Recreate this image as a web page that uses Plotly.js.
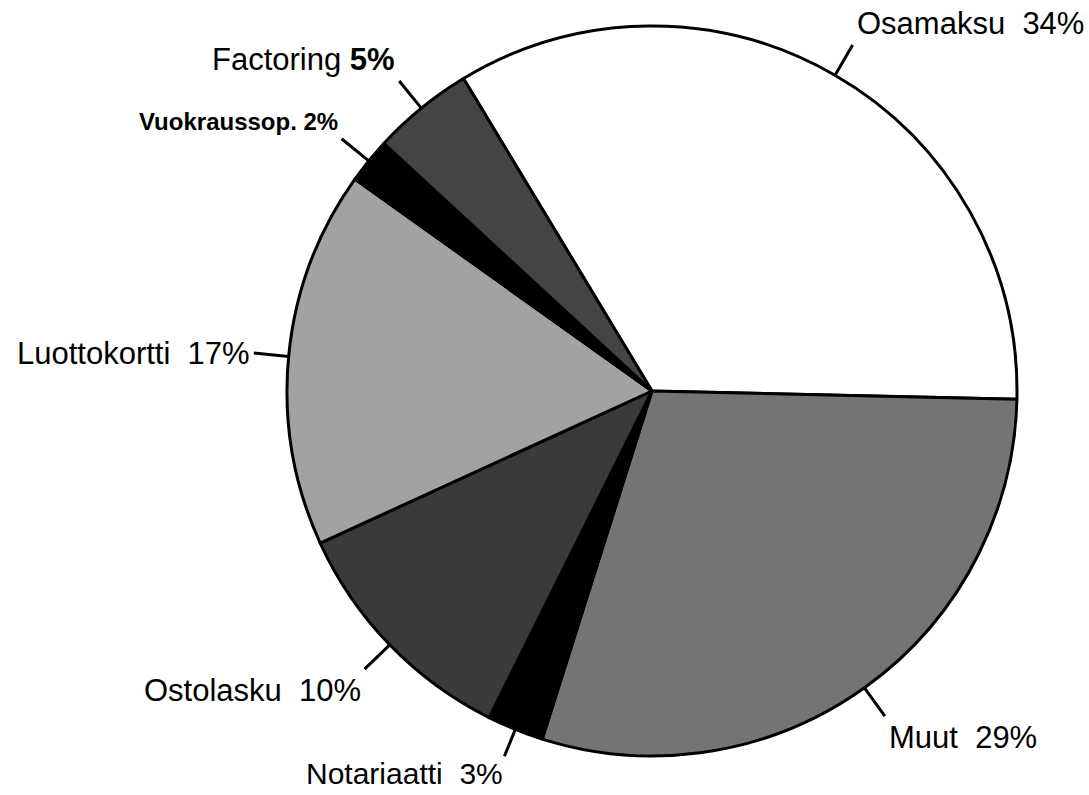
<!DOCTYPE html>
<html>
<head>
<meta charset="utf-8">
<script src="https://cdn.plot.ly/plotly-3.0.1.min.js"></script>
<style>html,body{margin:0;padding:0;background:#fff;}</style>
</head>
<body>
<div id="chart" style="width:1089px;height:795px;"></div>
<script>
// Data
const categories = ["Osamaksu", "Muut", "Notariaatti", "Ostolasku", "Luottokortti", "Vuokraussop.", "Factoring"];
const shares = [34.0, 29.5, 2.5, 10.8, 16.7, 2.0, 4.5];
const percentLabels = ["34%", "29%", "3%", "10%", "17%", "2%", "5%"];

// Styling
const sliceColors = ["#ffffff", "#747474", "#000000", "#3a3a3a", "#a2a2a2", "#000000", "#444444"];
const labelStyle = [
  {xa: "left", ya: "bottom", pad: 3, len: 35, size: 31},
  {xa: "left", ya: "top", pad: 3, len: 35, size: 31},
  {xa: "right", ya: "top", pad: 0, len: 29, size: 30},
  {xa: "right", ya: "top", pad: 3, len: 35, size: 31},
  {xa: "right", ya: "middle", pad: 3, len: 35, size: 31},
  {xa: "right", ya: "bottom", pad: 3, len: 35, size: 24},
  {xa: "right", ya: "bottom", pad: 3, len: 35, size: 31}
];
const startRotation = -31.1;

const W = 1089, H = 795;
const margin = {l: 287, r: 72, t: 26, b: 39};
const plotW = W - margin.l - margin.r;
const plotH = H - margin.t - margin.b;
const radiusPx = Math.min(plotW, plotH) / 2;

const total = shares.reduce((a, b) => a + b, 0);
const annotations = [];
let cum = 0;
shares.forEach((v, i) => {
  const midDeg = startRotation + (cum + v / 2) / total * 360;
  cum += v;
  const a = midDeg * Math.PI / 180;
  const sx = Math.sin(a), sy = Math.cos(a);
  const st = labelStyle[i];
  let txt;
  if (categories[i] === "Factoring") txt = categories[i] + " <b>" + percentLabels[i] + "</b>";
  else if (categories[i] === "Vuokraussop.") txt = "<b>" + categories[i] + " " + percentLabels[i] + "</b>";
  else txt = categories[i] + " \u00a0" + percentLabels[i];
  annotations.push({
    xref: "paper", yref: "paper",
    x: 0.5 + radiusPx * sx / plotW,
    y: 0.5 + radiusPx * sy / plotH,
    ax: st.len * sx,
    ay: -st.len * sy,
    text: txt,
    showarrow: true,
    arrowhead: 0,
    arrowwidth: 3,
    arrowcolor: "#000",
    standoff: 0,
    startstandoff: 0,
    xanchor: st.xa,
    yanchor: st.ya,
    borderpad: st.pad,
    font: {family: "Liberation Sans, Arial, Helvetica, sans-serif", size: st.size, color: "#000"}
  });
});

const trace = {
  type: "pie",
  labels: categories,
  values: shares,
  sort: false,
  direction: "clockwise",
  rotation: startRotation,
  textinfo: "none",
  hoverinfo: "label+percent",
  marker: {colors: sliceColors, line: {color: "#000", width: 3}},
  showlegend: false
};

const layout = {
  width: W, height: H,
  margin: margin,
  paper_bgcolor: "#fff",
  plot_bgcolor: "#fff",
  showlegend: false,
  annotations: annotations
};

Plotly.newPlot("chart", [trace], layout, {displayModeBar: false, staticPlot: true});
</script>
</body>
</html>
